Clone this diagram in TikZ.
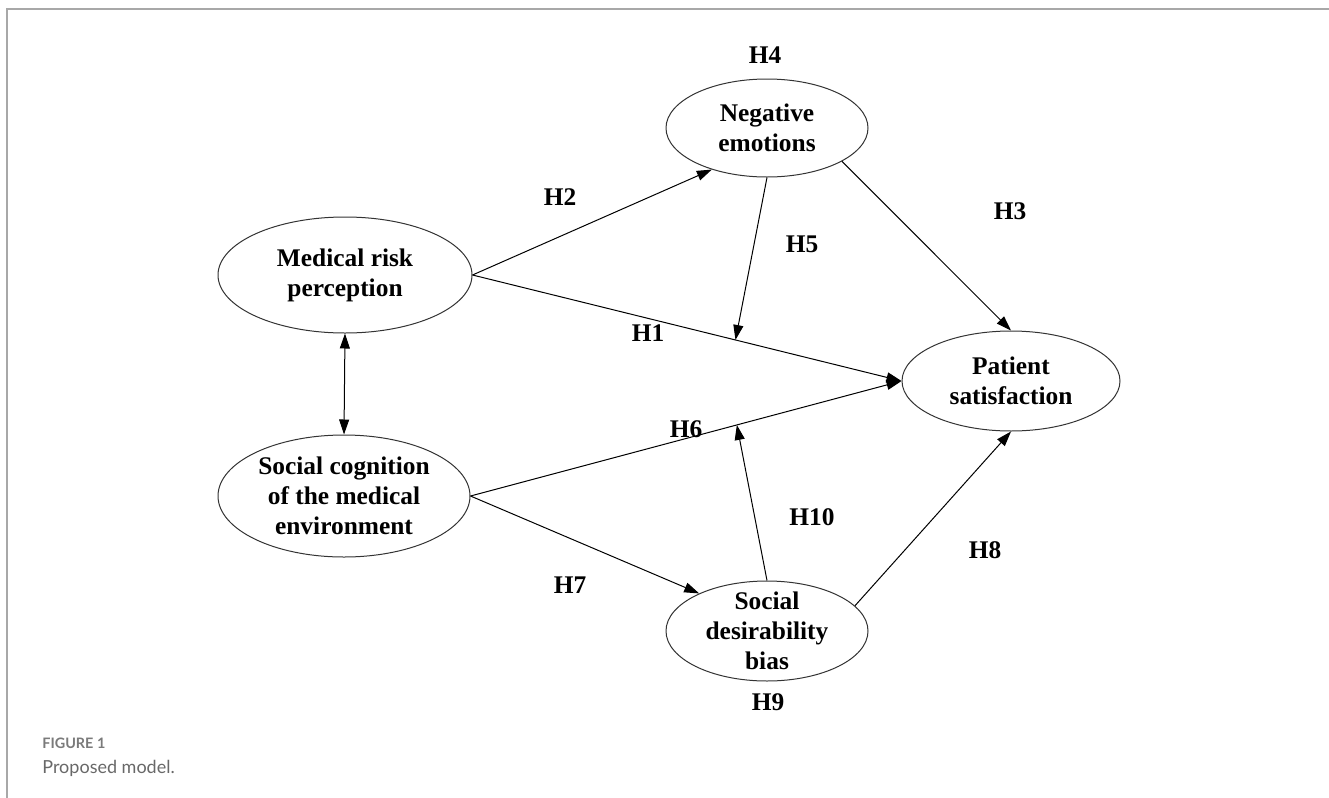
\documentclass[tikz,border=0pt]{standalone}
\usepackage{fontspec}
\setmainfont{Liberation Serif}
\newfontfamily\capfont{Lato}
\usepackage{xcolor}
\usetikzlibrary{arrows.meta,shapes.geometric}
\definecolor{framegray}{HTML}{A8A8A8}
\definecolor{capgray}{HTML}{7A7A7A}

\begin{document}
\begin{tikzpicture}[x=0.5pt,y=-0.5pt,>={Triangle[length=7.5pt,width=5pt]},
var/.style={draw=black!80,line width=0.5pt,ellipse,inner sep=0pt,align=center,font=\fontsize{12.7}{15}\selectfont\bfseries},
hyp/.style={font=\fontsize{12.7}{14}\selectfont\bfseries},
arr/.style={->,line width=0.5pt}]
\useasboundingbox(0,0)rectangle(1329,798);
\draw[framegray,line width=0.75pt](7,798)--(7,9)--(1329,9);
\node[var,minimum width=127pt,minimum height=58pt](mrp)at(345,275){Medical risk\\perception};
\node[var,minimum width=126pt,minimum height=61pt](sc)at(344,496){Social cognition\\of the medical\\environment};
\node[var,minimum width=101pt,minimum height=49pt](ne)at(767,128){Negative\\emotions};
\node[var,minimum width=109pt,minimum height=50pt](ps)at(1011,381){Patient\\satisfaction};
\node[var,minimum width=101pt,minimum height=50pt,inner ysep=-3pt](sdb)at(767,631){Social\\desirability\\bias};
\draw[arr](mrp.east)--(ne.217);
\draw[arr](mrp.east)--coordinate[pos=0.613](m1)(ps.west);
\draw[arr](sc.east)--coordinate[pos=0.618](m6)(ps.west);
\draw[arr](sc.east)--(sdb.151);
\draw[arr](ne.336)--(ps.north);
\draw[arr](sdb.16)--(ps.south);
\draw[arr](ne.south)--(m1);
\draw[arr](sdb.north)--(m6);
\draw[<->,line width=0.5pt](mrp.south)--(sc.north);
\node[hyp](h1)at(648,333){H1};
\node[hyp](h2)at(560,197){H2};
\node[hyp](h3)at(1010,211){H3};
\node[hyp](h4)at(765,55){H4};
\node[hyp](h5)at(802,244){H5};
\node[hyp](h6)at(686,429){H6};
\node[hyp](h7)at(570,585){H7};
\node[hyp](h8)at(985,550){H8};
\node[hyp](h9)at(768,702){H9};
\node[hyp](h10)at(812,517){H10};
\node[anchor=west,inner sep=0pt,text=capgray,font=\capfont\bfseries\fontsize{7.2}{8}\selectfont](fig)at(42,743){FIGURE 1};
\node[anchor=west,inner sep=0pt,text=capgray!85!black,font=\capfont\fontsize{9}{10}\selectfont](cap)at(42,768){Proposed model.};
\end{tikzpicture}
\end{document}
